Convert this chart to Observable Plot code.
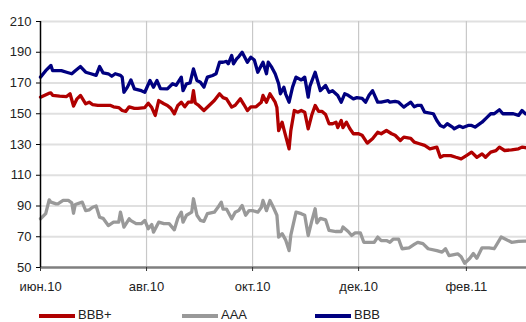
<!DOCTYPE html>
<html><head><meta charset="utf-8">
<script src="https://cdn.jsdelivr.net/npm/d3@7"></script>
<script src="https://cdn.jsdelivr.net/npm/@observablehq/plot@0.6"></script>
<style>
body{margin:0;background:#fff;font-family:"Liberation Sans",Arial,sans-serif;overflow:hidden;}
#wrap{width:526px;position:relative;}
#legend{position:relative;width:526px;height:22px;}
.sw{position:absolute;height:4px;top:14px;width:36px;}
.lt{position:absolute;top:8px;font-size:13px;line-height:13px;color:#222;}
</style></head>
<body><div id="wrap"></div>
<script>
const seriesNames = ["AAA", "BBB+", "BBB"];
const seriesColors = ["#999999", "#B00000", "#000080"];
const legendOrder = ["BBB+", "AAA", "BBB"];

const yTicks = [50, 70, 90, 110, 130, 150, 170, 190, 210];
const xTickDates = ["2010-06-01", "2010-08-01", "2010-10-01", "2010-12-01", "2011-02-01"];
const xTickLabels = ["июн.10", "авг.10", "окт.10", "дек.10", "фев.11"];

const bbbDates = ["2010-06-01","2010-06-04","2010-06-07","2010-06-08","2010-06-13","2010-06-16","2010-06-19","2010-06-21","2010-06-24","2010-06-27","2010-06-30","2010-07-03","2010-07-05","2010-07-07","2010-07-10","2010-07-12","2010-07-14","2010-07-17","2010-07-18","2010-07-19","2010-07-21","2010-07-23","2010-07-25","2010-07-29","2010-07-31","2010-08-03","2010-08-05","2010-08-07","2010-08-09","2010-08-13","2010-08-16","2010-08-18","2010-08-21","2010-08-22","2010-08-24","2010-08-26","2010-08-28","2010-08-30","2010-09-01","2010-09-03","2010-09-05","2010-09-08","2010-09-10","2010-09-12","2010-09-14","2010-09-16","2010-09-17","2010-09-19","2010-09-20","2010-09-22","2010-09-23","2010-09-25","2010-09-28","2010-09-30","2010-10-02","2010-10-04","2010-10-06","2010-10-07","2010-10-09","2010-10-10","2010-10-12","2010-10-14","2010-10-16","2010-10-17","2010-10-19","2010-10-20","2010-10-22","2010-10-24","2010-10-26","2010-10-29","2010-10-31","2010-11-02","2010-11-03","2010-11-06","2010-11-07","2010-11-09","2010-11-12","2010-11-14","2010-11-16","2010-11-19","2010-11-21","2010-11-23","2010-11-25","2010-11-28","2010-11-30","2010-12-03","2010-12-05","2010-12-07","2010-12-09","2010-12-12","2010-12-14","2010-12-18","2010-12-19","2010-12-22","2010-12-24","2010-12-27","2010-12-29","2010-12-31","2011-01-02","2011-01-04","2011-01-06","2011-01-08","2011-01-13","2011-01-15","2011-01-17","2011-01-19","2011-01-21","2011-01-24","2011-01-25","2011-01-28","2011-01-30","2011-02-02","2011-02-04","2011-02-06","2011-02-10","2011-02-13","2011-02-15","2011-02-17","2011-02-20","2011-02-22","2011-02-28","2011-03-03","2011-03-05","2011-03-07"];
const bbbValues = [173.8,178,181.4,178,178,177,176,178,180.7,177,176,175,180.7,176.6,176,174.4,176,175,173.8,164,167.3,172,166.2,165,164,171.6,167.3,171.6,166.4,166.2,169.5,168.5,173.8,165,169.5,170,179.2,171.6,170.5,167.3,173.8,174.9,176,183.5,183.5,184,182.5,187.9,182.5,186,187,190,183.5,186.8,185,177,181.4,183.5,176,183.5,180.3,176,169.5,163,167.3,163,157.5,167.3,173.8,172,173.8,160.8,168,177,173,165,168.4,164,165,161.9,157.5,163,162,159.7,160.5,160,157.5,162,165,157.5,157.5,158.5,157.5,158,157.5,154.3,156,157.5,154.5,155.5,155.4,151,150,145.6,142.4,141.3,143.5,141.3,140.2,142,141,142.4,142.4,141.3,144.5,147.8,150,150,152.6,150,150,148.9,152.1,150];

const bbbPlusDates = ["2010-06-01","2010-06-06","2010-06-07","2010-06-08","2010-06-12","2010-06-16","2010-06-18","2010-06-20","2010-06-22","2010-06-24","2010-06-27","2010-06-29","2010-07-01","2010-07-04","2010-07-08","2010-07-11","2010-07-13","2010-07-16","2010-07-18","2010-07-20","2010-07-22","2010-07-25","2010-07-27","2010-07-31","2010-08-02","2010-08-04","2010-08-06","2010-08-08","2010-08-11","2010-08-13","2010-08-15","2010-08-17","2010-08-19","2010-08-21","2010-08-23","2010-08-25","2010-08-27","2010-08-28","2010-08-29","2010-08-31","2010-09-03","2010-09-06","2010-09-09","2010-09-12","2010-09-14","2010-09-16","2010-09-19","2010-09-21","2010-09-24","2010-09-26","2010-09-28","2010-09-30","2010-10-03","2010-10-06","2010-10-07","2010-10-09","2010-10-11","2010-10-14","2010-10-15","2010-10-16","2010-10-18","2010-10-19","2010-10-22","2010-10-23","2010-10-25","2010-10-27","2010-10-29","2010-10-31","2010-11-02","2010-11-04","2010-11-06","2010-11-08","2010-11-10","2010-11-12","2010-11-14","2010-11-16","2010-11-18","2010-11-19","2010-11-21","2010-11-22","2010-11-24","2010-11-26","2010-11-28","2010-12-01","2010-12-03","2010-12-06","2010-12-09","2010-12-12","2010-12-14","2010-12-17","2010-12-20","2010-12-22","2010-12-25","2010-12-27","2010-12-31","2011-01-02","2011-01-05","2011-01-08","2011-01-11","2011-01-15","2011-01-17","2011-01-19","2011-01-23","2011-01-26","2011-01-29","2011-02-01","2011-02-04","2011-02-07","2011-02-10","2011-02-12","2011-02-15","2011-02-18","2011-02-20","2011-02-23","2011-02-27","2011-03-03","2011-03-05","2011-03-07"];
const bbbPlusValues = [160.8,163.4,163.5,162,161.5,161.2,163,155,159.7,161.9,156.5,157.5,156,155.5,155.4,155.5,154.5,154,152.1,151.5,154.5,153.5,153.5,154,156.9,154,148.9,158.6,156.5,155.4,153.5,150,155.4,157.5,154.5,157.5,157.5,165,157,155.4,152.1,155.4,158.6,163,160.5,159.7,154.3,155.5,159.7,156,152.1,154.5,154.5,157.5,161.9,157.5,163,157.5,154,139.1,144.5,140,127.2,139,152.1,151,152.1,151,140.2,149,155.4,151.5,151.5,149.5,143.5,143.5,144.5,141,145.6,141,144.5,140.2,137,137,136,130.9,133.7,138,137,139.1,137,136,132.6,134.8,134,131.5,130.5,129.4,127.2,128.3,121.7,122.8,122.8,121.7,120.7,122.8,125,121.7,123.9,121.7,125,126,128.3,126.1,126.5,127.2,128.3,127.9];

const aaaDates = ["2010-06-01","2010-06-04","2010-06-06","2010-06-07","2010-06-10","2010-06-11","2010-06-14","2010-06-17","2010-06-19","2010-06-20","2010-06-21","2010-06-25","2010-06-27","2010-06-29","2010-07-01","2010-07-03","2010-07-05","2010-07-07","2010-07-10","2010-07-13","2010-07-16","2010-07-17","2010-07-19","2010-07-22","2010-07-23","2010-07-26","2010-07-29","2010-07-31","2010-08-02","2010-08-04","2010-08-05","2010-08-08","2010-08-11","2010-08-14","2010-08-17","2010-08-19","2010-08-21","2010-08-22","2010-08-24","2010-08-27","2010-08-28","2010-08-30","2010-09-01","2010-09-03","2010-09-05","2010-09-09","2010-09-11","2010-09-13","2010-09-14","2010-09-16","2010-09-19","2010-09-21","2010-09-23","2010-09-25","2010-09-27","2010-09-29","2010-10-01","2010-10-04","2010-10-06","2010-10-07","2010-10-09","2010-10-11","2010-10-13","2010-10-15","2010-10-16","2010-10-18","2010-10-20","2010-10-22","2010-10-23","2010-10-26","2010-10-29","2010-10-31","2010-11-02","2010-11-04","2010-11-06","2010-11-07","2010-11-09","2010-11-12","2010-11-14","2010-11-18","2010-11-21","2010-11-22","2010-11-25","2010-11-27","2010-11-29","2010-12-02","2010-12-04","2010-12-07","2010-12-10","2010-12-12","2010-12-14","2010-12-17","2010-12-19","2010-12-21","2010-12-24","2010-12-26","2010-12-30","2011-01-02","2011-01-04","2011-01-07","2011-01-10","2011-01-15","2011-01-18","2011-01-20","2011-01-22","2011-01-27","2011-01-29","2011-01-31","2011-02-03","2011-02-05","2011-02-07","2011-02-10","2011-02-14","2011-02-17","2011-02-21","2011-02-23","2011-02-27","2011-03-03","2011-03-07"];
const aaaValues = [81.7,85,94,92.5,91.4,91.4,93.6,93.6,92,85.3,91,92.5,87,87.5,89.2,90,82.7,82,77.3,79.5,79.5,86,76.3,81.7,80.5,78.5,78.5,80.6,75.2,78,73,79.5,78.5,78.5,74.5,82,86,79.5,84,86,94.7,84,80.6,80,85,86,89,92.5,88,88,81.7,86,87,90.3,84,87,87,86,89,93.6,87,93.6,89,84,69.8,72,68,61,71,86,85,84,70.8,80,88.2,79,82,81,74.1,73.4,73.4,76.3,73.4,70.8,72.5,72.5,66.4,66.4,66.4,69.8,67.5,67.5,66.4,68.5,68.5,62.2,62.8,65,66.4,65.5,62.2,61,60,62.2,57.8,58.9,57,52.8,56,59.1,56,62.8,62.8,62.2,69.8,68.7,66.4,67,67.1];

const rows = [];
function add(name, ds, vs){ ds.forEach((d,i)=>rows.push({series:name, date:new Date(d), value:vs[i]})); }
add("AAA", aaaDates, aaaValues);
add("BBB+", bbbPlusDates, bbbPlusValues);
add("BBB", bbbDates, bbbValues);

const xTicks = xTickDates.map(d=>new Date(d));
const labelMap = new Map(xTicks.map((d,i)=>[+d, xTickLabels[i]]));
const x0 = new Date("2010-06-01"), x1 = new Date("2011-03-07T14:00:00Z");

const chart = Plot.plot({
  width: 526, height: 300,
  marginLeft: 40, marginRight: 0, marginTop: 21, marginBottom: 33,
  x: {type: "utc", domain: [x0, x1]},
  y: {domain: [50, 210]},
  color: {domain: seriesNames, range: seriesColors},
  style: {fontFamily: '"Liberation Sans", Arial, sans-serif', fontSize: "13px", color: "#222", background: "white"},
  marks: [
    Plot.ruleY(yTicks.filter(v=>v>50), {stroke: "#e0e0e0", strokeWidth: 2}),
    Plot.ruleX(xTicks.slice(1), {stroke: "#c8c8c8", strokeWidth: 1.2}),
    Plot.line(rows, {x: "date", y: "value", z: "series", stroke: "series", strokeWidth: 3.3, strokeLinejoin: "round"}),
    Plot.ruleY([50], {stroke: "#7f7f7f", strokeWidth: 2.5}),
    Plot.ruleX([x0], {stroke: "#000", strokeWidth: 1.5}),
    Plot.axisY({ticks: yTicks, tickSize: 4, tickPadding: 5, label: null, fontSize: 13, stroke: "#000", color: "#222"}),
    Plot.axisX({ticks: xTicks, tickFormat: d => labelMap.get(+d), tickSize: 4, tickPadding: 10, label: null, fontSize: 13, stroke: "#333", color: "#222"})
  ]
});
document.getElementById("wrap").appendChild(chart);

const leg = document.createElement("div");
leg.id = "legend";
const lefts = [39, 182, 315];
legendOrder.forEach((name, i) => {
  const sw = document.createElement("div");
  sw.className = "sw";
  sw.style.left = lefts[i] + "px";
  sw.style.background = seriesColors[seriesNames.indexOf(name)];
  const t = document.createElement("span");
  t.className = "lt";
  t.style.left = (lefts[i] + 39) + "px";
  t.textContent = name;
  leg.appendChild(sw); leg.appendChild(t);
});
document.getElementById("wrap").appendChild(leg);
</script></body></html>
